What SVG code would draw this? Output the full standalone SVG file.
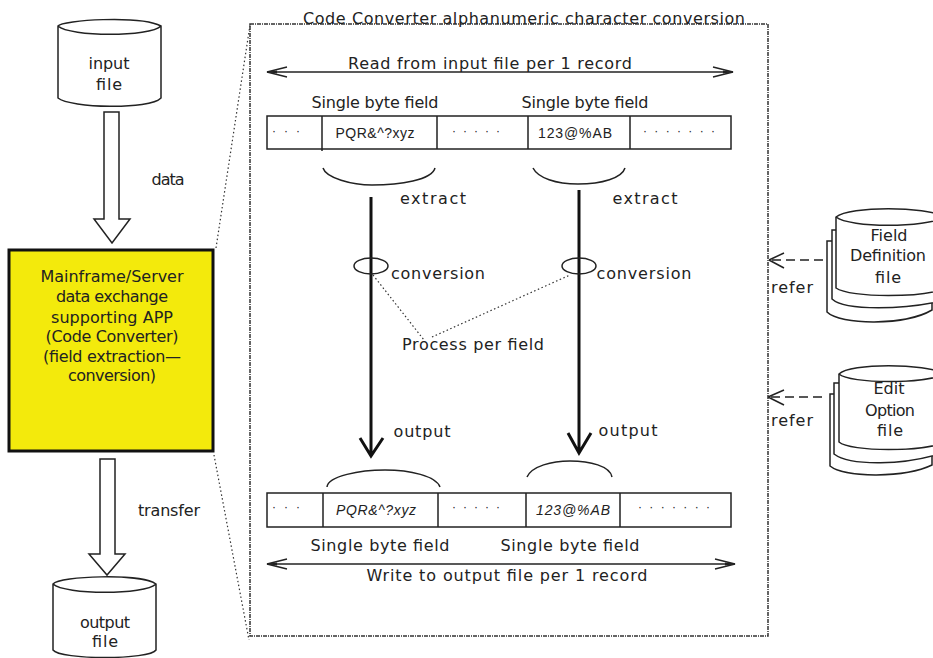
<svg xmlns="http://www.w3.org/2000/svg" width="933" height="658" viewBox="0 0 933 658">
<style>
text{font-family:"DejaVu Sans","Liberation Sans",sans-serif;font-size:16px;fill:#222;text-anchor:middle}
.s{font-family:"Liberation Sans",Arial,sans-serif;font-size:14px}
.i{font-style:italic}
.d{font-family:"Liberation Sans",Arial,sans-serif;font-size:12px;text-anchor:start}
.o{fill:none;stroke:#222;stroke-width:1.5}
.w{fill:#fff;stroke:#222;stroke-width:1.5}
.dot{fill:none;stroke:#333;stroke-width:1.2;stroke-dasharray:1.5 2.5}
.frame{fill:none;stroke:#333;stroke-width:1.5;stroke-dasharray:4 1 1 1}
.thick{fill:none;stroke:#111;stroke-width:3}
</style>
<defs>
<marker id="open" markerWidth="24" markerHeight="14" refX="22" refY="7" orient="auto-start-reverse" markerUnits="userSpaceOnUse"><path d="M2 2 L22 7 L2 12" fill="none" stroke="#222" stroke-width="1.3"/><path d="M12 5.5 L22 7 L12 8.5 Z" fill="#222"/></marker>
</defs>
<g id="connectors">
<path class="dot" d="M216 248 L250 25"/>
<path class="dot" d="M214 455 L249 640"/>
<path class="w" d="M104 112 H119 V219 H130 L112 243 L94 219 H104 Z"/>
<path class="w" d="M100 459 H115 V554 H125 L107 575 L89 554 H100 Z"/>
<path class="o" d="M267 72 H733" marker-start="url(#open)" marker-end="url(#open)"/>
<path class="o" d="M267 564 H735" marker-start="url(#open)" marker-end="url(#open)"/>
<path class="o" d="M323 168 C326 178 352 185 372 185 C400 185 432 180 435 168"/>
<path class="o" d="M533 168 C538 178 556 184 578 184 C602 184 622 178 625 168"/>
<path class="thick" d="M371 197 V456 M360 438 L371 456 L383 438"/>
<path class="thick" d="M579 190 V453 M568 433 L579 453 L591 433"/>
<path class="o" d="M327 487 C328 476 360 470 385 470 C410 470 436 476 440 487"/>
<path class="o" d="M527 477 C532 466 552 461 570 461 C590 461 610 466 612 477"/>
<path class="dot" d="M373 275 L424 340 M432 337 L570 275"/>
<path class="o" d="M823 260 H769" stroke-dasharray="9 5"/>
<path class="o" d="M769 260 L784 253 M769 260 L784 268"/>
<path class="o" d="M822 397 H768" stroke-dasharray="9 5"/>
<path class="o" d="M768 397 L784 390 M768 397 L784 405"/>
</g>
<g id="input-file">
<path class="o" d="M58 26 C62 20 140 15 161 26 V98 C150 110 70 108 58 98 Z M58 26 C70 37 150 37 161 26"/>
<text x="109" y="69" textLength="41">input</text>
<text x="109" y="90" textLength="26">file</text>
</g>
<g id="data-label"><text x="168" y="185" textLength="33">data</text></g>
<g id="app">
<rect x="9" y="250" width="204" height="201" fill="#f3ea0c" stroke="#111" stroke-width="3"/>
<text x="112" y="282" textLength="143">Mainframe/Server</text>
<text x="112" y="302" textLength="112">data exchange</text>
<text x="112" y="323" textLength="122">supporting APP</text>
<text x="112" y="342" textLength="133">(Code Converter)</text>
<text x="112" y="362" textLength="138">(field extraction—</text>
<text x="112" y="381" textLength="88">conversion)</text>
</g>
<g id="transfer-label"><text x="169" y="516" textLength="62">transfer</text></g>
<g id="output-file">
<path class="o" d="M53 584 C60 576 140 573 156 584 V650 C150 660 60 660 53 650 Z M53 584 C65 595 145 595 156 584"/>
<text x="105" y="628" textLength="50">output</text>
<text x="105" y="647" textLength="26">file</text>
</g>
<g id="frame">
<rect class="frame" x="250" y="24" width="518" height="612"/>
<text x="524" y="24" textLength="442">Code Converter alphanumeric character conversion</text>
<text x="490" y="69" textLength="284">Read from input file per 1 record</text>
</g>
<g id="input-record">
<text x="375" y="108" textLength="127">Single byte field</text>
<text x="585" y="108" textLength="127">Single byte field</text>
<rect class="o" x="267" y="116" width="464" height="33"/>
<path class="o" d="M322 116 V151 M437 116 V149 M528 116 V149 M630 116 V149"/>
<text class="d" x="272" y="135" textLength="28">· · ·</text>
<text class="s" x="375" y="138" textLength="79">PQR&amp;^?xyz</text>
<text class="d" x="452" y="135" textLength="48">· · · · ·</text>
<text class="s" x="575" y="138" textLength="74">123@%AB</text>
<text class="d" x="643" y="135" textLength="72">· · · · · · ·</text>
</g>
<g id="labels">
<text x="433" y="204" textLength="66">extract</text>
<text x="645" y="204" textLength="65">extract</text>
<ellipse class="o" cx="371" cy="266" rx="17" ry="8"/>
<ellipse class="o" cx="579" cy="266" rx="17" ry="8"/>
<text x="438" y="279" textLength="94">conversion</text>
<text x="644" y="279" textLength="95">conversion</text>
<text x="473" y="350" textLength="142">Process per field</text>
<text x="422" y="437" textLength="57">output</text>
<text x="628" y="436" textLength="59">output</text>
</g>
<g id="output-record">
<rect class="o" x="267" y="493" width="464" height="34"/>
<path class="o" d="M323 493 V527 M438 493 V527 M526 493 V527 M620 493 V527"/>
<text class="d" x="272" y="511" textLength="28">· · ·</text>
<text class="s i" x="376" y="515" textLength="80">PQR&amp;^?xyz</text>
<text class="d" x="452" y="511" textLength="48">· · · · ·</text>
<text class="s i" x="573" y="515" textLength="74">123@%AB</text>
<text class="d" x="638" y="511" textLength="72">· · · · · · ·</text>
<text x="380" y="551" textLength="139">Single byte field</text>
<text x="570" y="551" textLength="139">Single byte field</text>
<text x="507" y="581" textLength="281">Write to output file per 1 record</text>
</g>
<g id="field-definition-file">
<path class="w" d="M827 241 V312 C840 325 905 326 932 310 V241 Z"/>
<path class="w" d="M832 230 V299 C845 311 905 310 945 300 V230 Z"/>
<path class="w" d="M836 217 C850 206 925 206 945 217 V288 C925 298 850 298 836 288 Z"/>
<path class="o" d="M836 217 C850 228 925 228 945 217"/>
<text x="889" y="241" textLength="37">Field</text>
<text x="888" y="261" textLength="76">Definition</text>
<text x="888" y="283" textLength="26">file</text>
</g>
<g id="edit-option-file">
<path class="w" d="M830 394 V466 C845 478 905 478 932 465 V394 Z"/>
<path class="w" d="M834 383 V454 C850 466 905 466 945 452 V383 Z"/>
<path class="w" d="M839 374 C850 363 925 363 945 374 V442 C925 452 850 452 839 442 Z"/>
<path class="o" d="M839 374 C850 384 925 384 945 374"/>
<text x="889" y="394" textLength="31">Edit</text>
<text x="890" y="416" textLength="50">Option</text>
<text x="890" y="436" textLength="26">file</text>
</g>
<g id="refer-labels">
<text x="792" y="293" textLength="42">refer</text>
<text x="792" y="426" textLength="42">refer</text>
</g>
</svg>
